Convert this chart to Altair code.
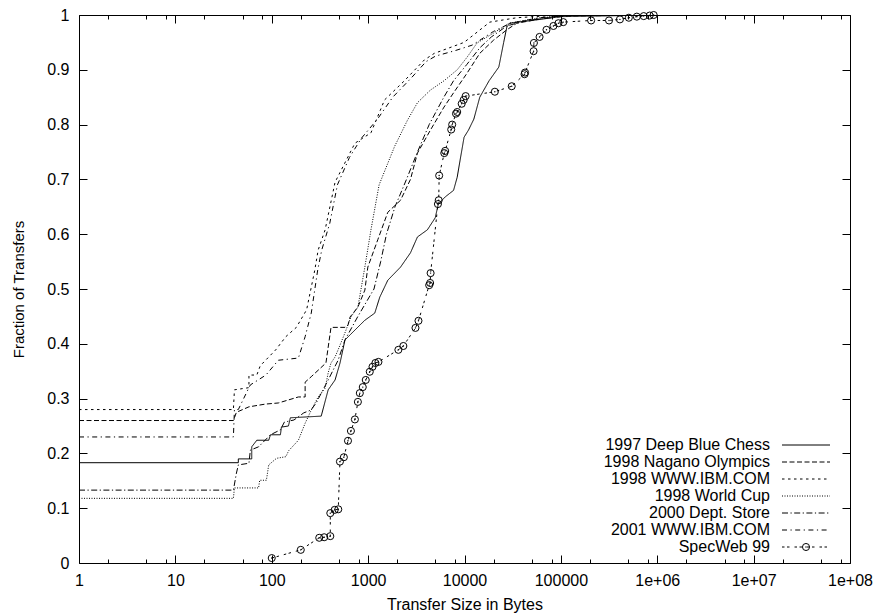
import altair as alt
import pandas as pd

names = ["1997 Deep Blue Chess", "1998 Nagano Olympics", "1998 WWW.IBM.COM",
         "1998 World Cup", "2000 Dept. Store", "2001 WWW.IBM.COM", "SpecWeb 99"]

chess_x = [1, 45, 45, 62, 62, 70, 93, 97, 123, 126, 149, 156, 326, 385, 454, 511, 575, 729, 925, 1172,
           1320, 1600, 2170, 2750, 3250, 4120, 4970, 5350, 6300, 7700, 8400, 9000, 9900, 11000, 12500,
           14400, 18000, 22700, 25500, 27500, 29500, 50000, 100000, 1000000]
chess_y = [0.183, 0.183, 0.19, 0.19, 0.212, 0.224, 0.224, 0.234, 0.234, 0.248, 0.25, 0.265, 0.268, 0.316,
           0.334, 0.365, 0.407, 0.425, 0.443, 0.456, 0.485, 0.516, 0.54, 0.566, 0.595, 0.608, 0.63, 0.655,
           0.668, 0.68, 0.704, 0.735, 0.777, 0.79, 0.81, 0.85, 0.88, 0.905, 0.95, 0.978, 0.985, 0.99, 0.997, 1.0]

nagano_x = [1, 40, 43, 58, 86, 117, 189, 222, 222, 257, 365, 412, 575, 618, 650, 783, 925, 993, 1260, 1600,
            2170, 2750, 3250, 4430, 6130, 7700, 10640, 14400, 20000, 27500, 34800, 90000, 1000000]
nagano_y = [0.26, 0.26, 0.275, 0.285, 0.29, 0.292, 0.303, 0.303, 0.33, 0.34, 0.365, 0.43, 0.43, 0.434, 0.449,
            0.467, 0.498, 0.54, 0.59, 0.64, 0.662, 0.7, 0.748, 0.79, 0.832, 0.858, 0.894, 0.93, 0.954, 0.973,
            0.985, 0.998, 1.0]

ibm98_x = [1, 40, 41, 58, 58, 70, 76, 110, 140, 180, 230, 280, 303, 358, 454, 729, 1070, 1480, 2380, 3830,
           4860, 9900, 18300, 34800, 100000, 1000000]
ibm98_y = [0.28, 0.28, 0.316, 0.32, 0.343, 0.343, 0.36, 0.389, 0.413, 0.43, 0.462, 0.535, 0.571, 0.608, 0.695,
           0.766, 0.785, 0.845, 0.88, 0.918, 0.93, 0.95, 0.987, 0.995, 1.0, 1.0]

wc_x = [1, 40, 41, 73, 75, 88, 93, 112, 140, 150, 189, 222, 257, 303, 358, 385, 412, 454, 488, 575, 663, 783,
        925, 1070, 1300, 1880, 2560, 3250, 4430, 6130, 8400, 10640, 13500, 20000, 29000, 60000, 150000, 1000000]
wc_y = [0.118, 0.118, 0.137, 0.137, 0.151, 0.151, 0.179, 0.191, 0.194, 0.205, 0.224, 0.255, 0.279, 0.303,
        0.319, 0.347, 0.365, 0.376, 0.389, 0.42, 0.449, 0.467, 0.54, 0.608, 0.69, 0.76, 0.808, 0.84, 0.863,
        0.88, 0.9, 0.923, 0.949, 0.967, 0.985, 0.995, 1.0, 1.0]

store_x = [1, 40, 43, 45, 58, 60, 73, 97, 123, 135, 170, 215, 255, 289, 385, 488, 575, 783, 1150, 1350, 1550,
           1900, 2500, 3250, 4300, 6100, 7700, 10600, 14400, 19000, 27500, 44000, 145000, 1000000]
store_y = [0.133, 0.133, 0.164, 0.179, 0.182, 0.206, 0.212, 0.234, 0.243, 0.257, 0.261, 0.274, 0.279, 0.292,
           0.334, 0.37, 0.407, 0.45, 0.5, 0.55, 0.6, 0.65, 0.7, 0.75, 0.8, 0.85, 0.88, 0.91, 0.94, 0.96, 0.98,
           0.99, 1.0, 1.0]

ibm01_x = [1, 40, 41, 45, 58, 60, 87, 117, 189, 222, 257, 300, 330, 400, 480, 640, 850, 1250, 1800, 2800,
           4000, 5000, 8000, 12000, 20000, 30000, 60000, 150000, 1000000]
ibm01_y = [0.23, 0.23, 0.28, 0.28, 0.32, 0.325, 0.343, 0.37, 0.374, 0.413, 0.456, 0.535, 0.571, 0.62, 0.69,
           0.74, 0.775, 0.81, 0.85, 0.885, 0.915, 0.925, 0.935, 0.945, 0.97, 0.985, 0.995, 1.0, 1.0]

spec_x = [100, 200, 311, 350, 405, 405, 450, 490, 510, 560, 618, 663, 729, 783, 820, 880, 945, 1040, 1110, 1190,
          1280, 2060, 2320, 3100, 3330, 4300, 4400, 4450, 5300, 5400, 5460, 6170, 6300, 7280, 7450, 8160, 8400,
          9350, 9800, 10280, 20650, 30900, 42000, 42500, 52100, 52500, 60100, 70900, 83700, 94300, 106000,
          206000, 316000, 410000, 507000, 614000, 724000, 835000, 918000]
spec_y = [0.009, 0.024, 0.046, 0.047, 0.049, 0.091, 0.097, 0.098, 0.185, 0.193, 0.223, 0.241, 0.262, 0.294,
          0.31, 0.321, 0.334, 0.349, 0.358, 0.365, 0.367, 0.389, 0.396, 0.429, 0.442, 0.507, 0.511, 0.529,
          0.655, 0.662, 0.707, 0.748, 0.752, 0.791, 0.8, 0.82, 0.823, 0.838, 0.845, 0.852, 0.86, 0.87, 0.892,
          0.895, 0.934, 0.949, 0.96, 0.973, 0.98, 0.985, 0.987, 0.99, 0.99, 0.992, 0.995, 0.997, 0.998, 0.999, 1.0]

series_x = [chess_x, nagano_x, ibm98_x, wc_x, store_x, ibm01_x, spec_x]
series_y = [chess_y, nagano_y, ibm98_y, wc_y, store_y, ibm01_y, spec_y]

x_major = [1, 10, 100, 1000, 10000, 100000, 1000000, 10000000, 100000000]
x_minor = [m * d for d in [1, 10, 100, 1000, 10000, 100000, 1000000, 10000000] for m in (2, 5, 8)]
y_ticks = [0, 0.1, 0.2, 0.3, 0.4, 0.5, 0.6, 0.7, 0.8, 0.9, 1]

dashes = [[1, 0], [5, 2.5], [2.5, 3.5], [1, 1.5], [6, 2.5, 1.2, 2.5], [5, 3.5, 1.2, 3.5], [2.5, 2.5, 2.5, 5]]

FONT = "Liberation Sans"
W, H = 771, 548
xscale = alt.Scale(type="log", domain=[1, 100000000], nice=False)
yscale = alt.Scale(domain=[0, 1], nice=False)

label_expr = ("datum.value >= 1000000 ? '1e+0' + format(log(datum.value)/LN10, '.0f') "
              ": format(datum.value, 'd')")

main_x_axis = alt.Axis(orient="bottom", values=x_major, labelExpr=label_expr, ticks=False, tickSize=0,
                       domain=False, grid=False, labelPadding=22, labelBaseline="alphabetic",
                       labelFlush=False, labelOverlap=False, labelFontSize=16,
                       title="Transfer Size in Bytes", titleFontSize=16, titleFontWeight="normal",
                       titleBaseline="alphabetic", titleY=46)
main_y_axis = alt.Axis(orient="left", values=y_ticks, format="~g", ticks=False, tickSize=0, domain=False,
                       grid=False, labelPadding=10, labelFontSize=16, labelOverlap=False,
                       title="Fraction of Transfers", titleFontSize=15, titleFontWeight="normal",
                       titleAngle=270, titleBaseline="middle", titleAlign="center", titleX=-61, titleY=274)


def tick_axis(orient, values, size):
    return alt.Axis(orient=orient, values=values, tickSize=size, offset=-size, labels=False, domain=False,
                    grid=False, title=None, ticks=True, tickColor="black", tickWidth=1)


axis_plan = [
    (main_x_axis, main_y_axis),
    (tick_axis("bottom", x_major, 8), tick_axis("left", y_ticks, 8)),
    (tick_axis("bottom", x_minor, 4), tick_axis("right", y_ticks, 8)),
    (tick_axis("top", x_major, 8), None),
    (tick_axis("top", x_minor, 4), None),
    (None, None),
    (None, None),
]

layers = []
for i, name in enumerate(names):
    df = pd.DataFrame({"x": series_x[i], "y": series_y[i], "order": list(range(len(series_x[i])))})
    ax, ay = axis_plan[i]
    layers.append(
        alt.Chart(df).mark_line(color="black", strokeWidth=1, strokeDash=dashes[i], clip=True).encode(
            x=alt.X("x:Q", scale=xscale, axis=ax),
            y=alt.Y("y:Q", scale=yscale, axis=ay),
            order="order:Q",
        )
    )

spec_df = pd.DataFrame({"x": spec_x, "y": spec_y})
layers.append(alt.Chart(spec_df).mark_point(shape="circle", size=50, filled=False, color="black",
                                            strokeWidth=1, opacity=1).encode(
    x=alt.X("x:Q", scale=xscale, axis=None), y=alt.Y("y:Q", scale=yscale, axis=None)))
layers.append(alt.Chart(spec_df).mark_point(shape="circle", size=2, filled=True, color="black",
                                            opacity=1).encode(
    x=alt.X("x:Q", scale=xscale, axis=None), y=alt.Y("y:Q", scale=yscale, axis=None)))

# legend (inside plot, bottom right, gnuplot style: label then sample)
for i, name in enumerate(names):
    ly = 430 + 17 * i
    ldf = pd.DataFrame({"label": [name]})
    layers.append(alt.Chart(ldf).mark_text(align="right", baseline="middle", font=FONT, fontSize=16,
                                           color="black").encode(
        text="label:N", x=alt.value(W - 80), y=alt.value(ly)))
    layers.append(alt.Chart(ldf).mark_rule(color="black", strokeWidth=1, strokeDash=dashes[i]).encode(
        x=alt.value(W - 68), x2=alt.value(W - 20), y=alt.value(ly)))
    if name == "SpecWeb 99":
        layers.append(alt.Chart(ldf).mark_point(shape="circle", size=50, filled=False, color="black",
                                                strokeWidth=1, opacity=1).encode(
            x=alt.value(W - 44), y=alt.value(ly)))
        layers.append(alt.Chart(ldf).mark_point(shape="circle", size=2, filled=True, color="black",
                                                opacity=1).encode(
            x=alt.value(W - 44), y=alt.value(ly)))

chart = alt.layer(*layers).resolve_axis(x="independent", y="independent").properties(
    width=W, height=H,
    padding={"left": 71, "top": 7, "right": 23, "bottom": 50},
    autosize=alt.AutoSizeParams(type="none"),
    background="white",
).configure_view(stroke="black", strokeWidth=1).configure_axis(
    labelFont=FONT, titleFont=FONT, labelColor="black", titleColor="black", tickColor="black"
)

chart.save("out.html", embed_options={"renderer": "svg", "actions": False})
